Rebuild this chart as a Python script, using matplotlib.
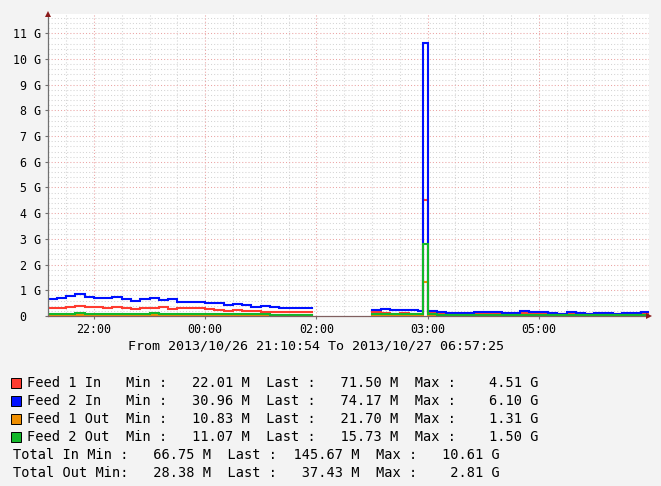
import numpy as np
import matplotlib
matplotlib.use("Agg")
import matplotlib.pyplot as plt
from matplotlib.patches import Rectangle

# ---------------- data (values in G, time in minutes of elapsed time after 21:00) -------------
seg1_start = [10, 20, 30, 40, 50, 60, 70, 80, 90, 100, 110, 120, 130, 140, 150,
              160, 170, 180, 190, 200, 210, 220, 230, 240, 250, 260, 270, 280, 290]
seg1_end = 295
seg2_start = [360, 370, 380, 390, 400, 410, 415, 420, 430, 440, 450, 460, 470, 480,
              490, 500, 510, 520, 530, 540, 550, 560, 570, 580, 590, 600, 610, 620,
              630, 640, 650]
seg2_end = 657.4

f1_in_1 = [0.30, 0.30, 0.36, 0.39, 0.34, 0.35, 0.32, 0.35, 0.32, 0.27, 0.32, 0.32, 0.35, 0.29,
           0.32, 0.32, 0.32, 0.26, 0.25, 0.21, 0.23, 0.21, 0.18, 0.17, 0.15, 0.14, 0.14, 0.14, 0.14]
f2_in_1 = [0.37, 0.40, 0.42, 0.45, 0.40, 0.36, 0.37, 0.39, 0.34, 0.33, 0.35, 0.37, 0.27, 0.38,
           0.24, 0.22, 0.22, 0.26, 0.25, 0.22, 0.22, 0.22, 0.18, 0.22, 0.21, 0.17, 0.17, 0.17, 0.16]
f1_out_1 = [0.04, 0.04, 0.04, 0.05, 0.04, 0.04, 0.04, 0.04, 0.04, 0.04, 0.04, 0.05, 0.04, 0.04,
            0.04, 0.04, 0.04, 0.04, 0.04, 0.04, 0.04, 0.04, 0.03, 0.03, 0.03, 0.03, 0.02, 0.02, 0.02]
f2_out_1 = [0.03, 0.03, 0.03, 0.08, 0.03, 0.03, 0.03, 0.03, 0.03, 0.03, 0.03, 0.08, 0.03, 0.03,
            0.03, 0.03, 0.03, 0.03, 0.03, 0.03, 0.03, 0.03, 0.03, 0.03, 0.02, 0.02, 0.02, 0.02, 0.02]

f1_in_2 = [0.14, 0.10, 0.08, 0.12, 0.08, 0.08, 4.51, 0.13, 0.10, 0.08, 0.08, 0.07, 0.10, 0.10,
           0.08, 0.07, 0.08, 0.11, 0.10, 0.08, 0.07, 0.06, 0.09, 0.07, 0.06, 0.07, 0.07, 0.06,
           0.07, 0.07, 0.0715]
f2_in_2 = [0.09, 0.185, 0.15, 0.11, 0.15, 0.11, 6.10, 0.08, 0.07, 0.05, 0.05, 0.031, 0.04, 0.04,
           0.06, 0.03, 0.05, 0.07, 0.04, 0.06, 0.06, 0.03, 0.05, 0.03, 0.03, 0.06, 0.06, 0.03,
           0.06, 0.06, 0.0742]
f1_out_2 = [0.03, 0.03, 0.03, 0.03, 0.03, 0.03, 1.31, 0.03, 0.03, 0.02, 0.02, 0.02, 0.03, 0.02,
            0.02, 0.02, 0.02, 0.03, 0.02, 0.02, 0.02, 0.02, 0.02, 0.02, 0.02, 0.02, 0.02, 0.02,
            0.02, 0.02, 0.0217]
f2_out_2 = [0.03, 0.03, 0.03, 0.03, 0.03, 0.03, 1.50, 0.03, 0.02, 0.02, 0.02, 0.02, 0.02, 0.02,
            0.02, 0.02, 0.02, 0.02, 0.02, 0.02, 0.02, 0.02, 0.02, 0.02, 0.02, 0.02, 0.02, 0.02,
            0.02, 0.02, 0.0157]

tick_minutes = [60, 180, 300, 420, 540]
tick_labels = ["22:00", "00:00", "02:00", "03:00", "05:00"]
y_ticks = [0, 1, 2, 3, 4, 5, 6, 7, 8, 9, 10, 11]
y_labels = ["0  "] + ["%d G" % v for v in y_ticks[1:]]

series_names = ["Feed 1 In", "Feed 2 In", "Feed 1 Out", "Feed 2 Out"]
series_min = ["22.01 M", "30.96 M", "10.83 M", "11.07 M"]
series_last = ["71.50 M", "74.17 M", "21.70 M", "15.73 M"]
series_max = ["4.51 G", "6.10 G", "1.31 G", "1.50 G"]
total_names = ["Total In Min :", "Total Out Min:"]
total_min = ["66.75 M", "28.38 M"]
total_last = ["145.67 M", "37.43 M"]
total_max = ["10.61 G", "2.81 G"]
period_text = "From 2013/10/26 21:10:54 To 2013/10/27 06:57:25"

colors = ["#FF3B30", "#0010FF", "#EE8E00", "#12B82A"]

# ---------------- figure ----------------
W, H = 661, 486
fig = plt.figure(figsize=(W / 100, H / 100), dpi=100, facecolor="#F3F3F3")
L, R, B, T = 48, 649, 316, 14
ax = fig.add_axes([L / W, 1 - B / H, (R - L) / W, (B - T) / H])
ax.set_facecolor("white")
ax.set_xlim(10.4, 659.0)
ax.set_ylim(0, 11.75)

mono = "DejaVu Sans Mono"

# grid
for yv in np.arange(0.2, 11.75, 0.2):
    if abs(yv - round(yv)) > 1e-6:
        ax.axhline(yv, color="#D4D4D4", lw=0.75, ls=(0, (1, 2)), zorder=0.5)
for yv in y_ticks[1:]:
    ax.axhline(yv, color="#EBA3A3", lw=0.75, ls=(0, (1, 2)), zorder=0.6)
for xv in np.arange(30, 659, 30):
    if xv not in tick_minutes:
        ax.axvline(xv, color="#D4D4D4", lw=0.75, ls=(0, (1, 2)), zorder=0.5)
for xv in tick_minutes:
    ax.axvline(xv, color="#EBA3A3", lw=0.75, ls=(0, (1, 2)), zorder=0.6)

# data lines (stacked)
segments = [
    (seg1_start, seg1_end, f1_in_1, f2_in_1, f1_out_1, f2_out_1),
    (seg2_start, seg2_end, f1_in_2, f2_in_2, f1_out_2, f2_out_2),
]
for starts, end, a, b, c, d in segments:
    x = np.array(list(starts) + [end], dtype=float)
    a = np.array(a); b = np.array(b); c = np.array(c); d = np.array(d)
    lines = [a, a + b, c, c + d]
    for vals, col in zip(lines, colors):
        y = np.append(vals, vals[-1])
        ax.plot(x, y, drawstyle="steps-post", color=col, lw=1.5, zorder=3,
                solid_joinstyle="miter")

# axes
for s in ["top", "right"]:
    ax.spines[s].set_visible(False)
ax.spines["left"].set_color("#707070")
ax.spines["bottom"].set_color("#806060")
ax.spines["left"].set_linewidth(0.9)
ax.spines["bottom"].set_linewidth(0.9)
ax.spines["left"].set_zorder(4)
ax.spines["bottom"].set_zorder(4)
ax.plot([0], [1.0], marker="^", ms=5, color="#8B1A1A", transform=ax.transAxes,
        clip_on=False, zorder=5, markeredgewidth=0)
ax.plot([1.0], [0], marker=">", ms=5, color="#8B1A1A", transform=ax.transAxes,
        clip_on=False, zorder=5, markeredgewidth=0)

ax.set_xticks(tick_minutes)
ax.set_xticklabels(tick_labels, fontfamily=mono, fontsize=8.4)
ax.set_yticks(y_ticks)
ax.set_yticklabels(y_labels, fontfamily=mono, fontsize=8.4)
ax.tick_params(axis="both", length=2, width=0.8, color="#707070", pad=3, labelcolor="#000000")

# text below
def fx(px):
    return px / W

def fy(py):
    return 1 - py / H

fig.text(fx(128), fy(346), period_text, fontfamily=mono, fontsize=9.6, va="center", ha="left")

row_y = [383, 401, 419, 437]
for i in range(4):
    fig.patches.append(Rectangle((fx(11), fy(row_y[i] + 5)), 10 / W, 10 / H,
                                 transform=fig.transFigure, facecolor=colors[i],
                                 edgecolor="#000000", lw=0.7))
    s = "%-12sMin :%10s  Last :%10s  Max :%10s" % (series_names[i], series_min[i],
                                                    series_last[i], series_max[i])
    fig.text(fx(27), fy(row_y[i]), s, fontfamily=mono, fontsize=9.8, va="center", ha="left")

tot_y = [455, 473]
for i in range(2):
    s = "%s%10s  Last :%10s  Max :%10s" % (total_names[i], total_min[i], total_last[i], total_max[i])
    fig.text(fx(13), fy(tot_y[i]), s, fontfamily=mono, fontsize=9.8, va="center", ha="left")

fig.savefig("out.png", dpi=100, facecolor=fig.get_facecolor())
